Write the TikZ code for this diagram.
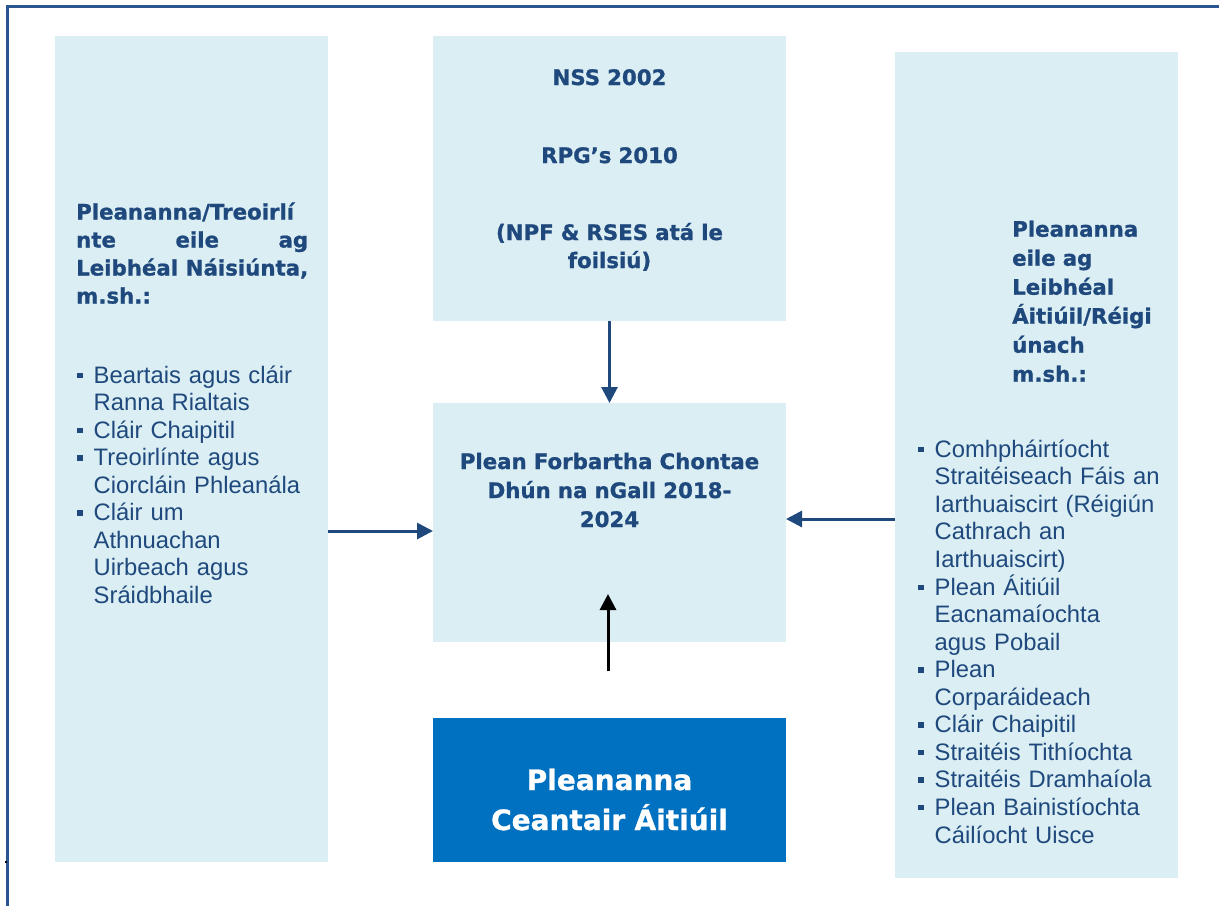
\documentclass[tikz,border=0pt]{standalone}
\usepackage{fontspec}
\setmainfont{Liberation Sans}
\newfontfamily\headfont{DejaVu Sans}[BoldFeatures={FakeBold=1}]
\usepackage{xcolor}
\usetikzlibrary{arrows.meta}

\definecolor{paleblue}{HTML}{DAEEF3}
\definecolor{navy}{HTML}{1F497D}
\definecolor{strongblue}{HTML}{0070C0}
\definecolor{framecol}{HTML}{2A5590}

% square bullet and hanging indent for list lines
\newcommand{\sqbul}{\makebox[16.5pt][l]{\raisebox{5pt}{\rule{5.5pt}{5.5pt}}}}
\newcommand{\sqcont}{\hspace*{16.5pt}}

\begin{document}
\begin{tikzpicture}[x=1pt,y=-1pt,
  box/.style={rectangle, fill=paleblue, inner sep=0pt, outer sep=0pt, anchor=north west},
  head/.style={font=\headfont\bfseries\fontsize{21.3pt}{28pt}\selectfont, text=navy, inner sep=0pt, anchor=base},
  items/.style={font=\fontsize{23.8pt}{27.55pt}\selectfont, text=navy, inner sep=0pt, align=left, anchor=base west},
  arr/.style={navy, line width=3pt, -{Triangle[length=16pt,width=16pt]}}]
\useasboundingbox (0,0) rectangle (1219,906);

% Frame
\draw[framecol, line width=2.5pt] (7.5,906) -- (7.5,6.5) -- (1219,6.5);
\fill (4.5,861) rectangle (7,863);

% Boxes
\node[box, minimum width=273pt, minimum height=826pt] (natplans) at (55,36) {};
\node[box, minimum width=353pt, minimum height=285pt] (nss) at (433,36) {};
\node[box, minimum width=353pt, minimum height=239pt] (cdp) at (433,403) {};
\node[box, fill=strongblue, minimum width=353pt, minimum height=144pt] (lap) at (433,718) {};
\node[box, minimum width=283pt, minimum height=826pt] (localplans) at (895,52) {};

% National level (left)
\node[head, anchor=base west, text width=232pt, align=left] (nathead) at (76,219.5)
  {Pleananna/Treoirlí\\ nte\hfill eile\hfill ag\\ Leibhéal\hfill Náisiúnta,\\ m.sh.:};
\node[items, text width=240pt] (natlist) at (77,383)
  {\sqbul Beartais agus cláir\\ \sqcont Ranna Rialtais\\
   \sqbul Cláir Chaipitil\\
   \sqbul Treoirlínte agus\\ \sqcont Ciorcláin Phleanála\\
   \sqbul Cláir um\\ \sqcont Athnuachan\\ \sqcont Uirbeach agus\\ \sqcont Sráidbhaile};

% Strategies (top)
\node[head, text width=340pt, align=center] (nsstext) at (609.5,85) {NSS 2002};
\node[head, text width=340pt, align=center] (rpgtext) at (609.5,163) {RPG’s 2010};
\node[head, text width=340pt, align=center] (npftext) at (609.5,240) {(NPF \& RSES atá le\\ foilsiú)};

% County plan (middle)
\node[head, text width=340pt, align=center, font=\headfont\bfseries\fontsize{21.3pt}{29pt}\selectfont] (cdptext) at (609.5,469)
  {Plean Forbartha Chontae\\ Dhún na nGall 2018-\\ 2024};

% Local area plans (bottom)
\node[head, text=white, text width=340pt, align=center, font=\headfont\bfseries\fontsize{28pt}{40pt}\selectfont] (laptext) at (609.5,790)
  {Pleananna\\ Ceantair Áitiúil};

% Local/regional level (right)
\node[head, anchor=base west, text width=160pt, align=left, font=\headfont\bfseries\fontsize{21.3pt}{29pt}\selectfont] (lochead) at (1012,236.7)
  {Pleananna\\ eile ag\\ Leibhéal\\ Áitiúil/Réigi\\ únach\\ m.sh.:};
\node[items, text width=250pt] (loclist) at (918,457.3)
  {\sqbul Comhpháirtíocht\\ \sqcont Straitéiseach Fáis an\\ \sqcont Iarthuaiscirt (Réigiún\\ \sqcont Cathrach an\\ \sqcont Iarthuaiscirt)\\
   \sqbul Plean Áitiúil\\ \sqcont Eacnamaíochta\\ \sqcont agus Pobail\\
   \sqbul Plean\\ \sqcont Corparáideach\\
   \sqbul Cláir Chaipitil\\
   \sqbul Straitéis Tithíochta\\
   \sqbul Straitéis Dramhaíola\\
   \sqbul Plean Bainistíochta\\ \sqcont Cáilíocht Uisce};

% Arrows
\draw[arr] (nss.south) -- (cdp.north);
\draw[arr] (natplans.east |- 0,531) -- (cdp.west |- 0,531);
\draw[arr] (localplans.west |- 0,519) -- (cdp.east |- 0,519);
\coordinate (upfoot) at (608,671);
\coordinate (uptip) at (608,594);
\draw[line width=3pt, -{Triangle[length=16pt,width=16pt]}] (upfoot) -- (uptip);
\end{tikzpicture}
\end{document}
